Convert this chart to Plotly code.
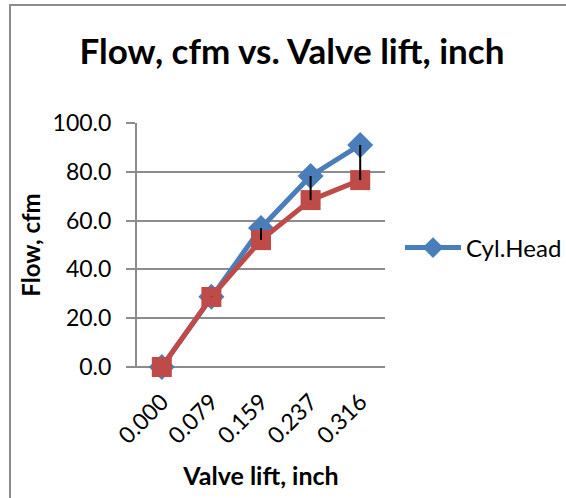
import plotly.graph_objects as go

valve_lift = ["0.000", "0.079", "0.159", "0.237", "0.316"]
cyl_head = [0.0, 28.8, 57.0, 78.3, 91.0]
second = [0.0, 28.7, 52.0, 68.4, 76.6]

BLUE = "#4A7EBB"
RED = "#BE4B48"
FONT = "Lato"

fig = go.Figure()
fig.add_trace(go.Scatter(
    x=valve_lift, y=cyl_head, name="Cyl.Head", mode="lines+markers",
    line=dict(color=BLUE, width=5),
    marker=dict(symbol="diamond", size=20, color=BLUE),
    cliponaxis=False,
))
fig.add_trace(go.Scatter(
    x=valve_lift, y=second, name="Series2", mode="lines+markers",
    line=dict(color=RED, width=5),
    marker=dict(symbol="square", size=20, color=RED),
    showlegend=False, cliponaxis=False,
))
# high-low lines connecting the two series
hx, hy = [], []
for cat, a, b in zip(valve_lift, cyl_head, second):
    hx += [cat, cat, None]
    hy += [a, b, None]
fig.add_trace(go.Scatter(
    x=hx, y=hy, mode="lines", line=dict(color="black", width=2),
    showlegend=False, hoverinfo="skip", cliponaxis=False,
))

W, H = 566, 498
L, R, T, B = 137, 181, 123, 131
pw, ph = W - L - R, H - T - B

def px(x):
    return (x - L) / pw

def py(y):
    return (H - B - y) / ph

fig.update_layout(
    width=W, height=H,
    margin=dict(l=L, r=R, t=T, b=B, autoexpand=False),
    paper_bgcolor="white", plot_bgcolor="white",
    font=dict(family=FONT, color="black", size=23),
    title=dict(text="<b>Flow, cfm vs. Valve lift, inch</b>", x=292 / W, xanchor="center",
               y=1 - 52 / H, yanchor="middle", font=dict(size=35, family=FONT)),
    showlegend=True,
    legend=dict(x=px(400), y=py(248), xanchor="left", yanchor="middle",
                font=dict(size=24, family=FONT), itemwidth=56,
                bgcolor="rgba(0,0,0,0)"),
    xaxis=dict(type="category", range=[-0.5, 4.5], tickangle=-45,
               showgrid=False, showline=False, ticks="", zeroline=False,
               tickfont=dict(size=23), ticklabelstandoff=16,
               title=dict(text="<b>Valve lift, inch</b>", font=dict(size=25), standoff=19)),
    yaxis=dict(range=[0, 100], tick0=0, dtick=20, tickformat=".1f",
               showgrid=True, gridcolor="#8C8C8C", gridwidth=2,
               showline=True, linecolor="#8C8C8C", linewidth=2,
               ticks="outside", ticklen=9, tickcolor="#8C8C8C", tickwidth=2,
               zeroline=False, tickfont=dict(size=23), ticklabelstandoff=10,
               title=dict(text="<b>Flow, cfm</b>", font=dict(size=24), standoff=5)),
    shapes=[
        dict(type="rect", xref="paper", yref="paper",
             x0=px(10), x1=px(580), y0=py(510), y1=py(5),
             line=dict(color="#8C8C8C", width=2), layer="below"),
        dict(type="line", xref="paper", yref="paper",
             x0=px(128), x1=1, y0=0, y1=0,
             line=dict(color="#8C8C8C", width=2), layer="below"),
    ],
)

fig.write_html(
    "out.html",
    config={"displayModeBar": False},
    post_script=(
        "document.body.style.margin='0';"
        "document.body.style.overflow='hidden';"
        "document.documentElement.style.overflow='hidden';"
    ),
)
